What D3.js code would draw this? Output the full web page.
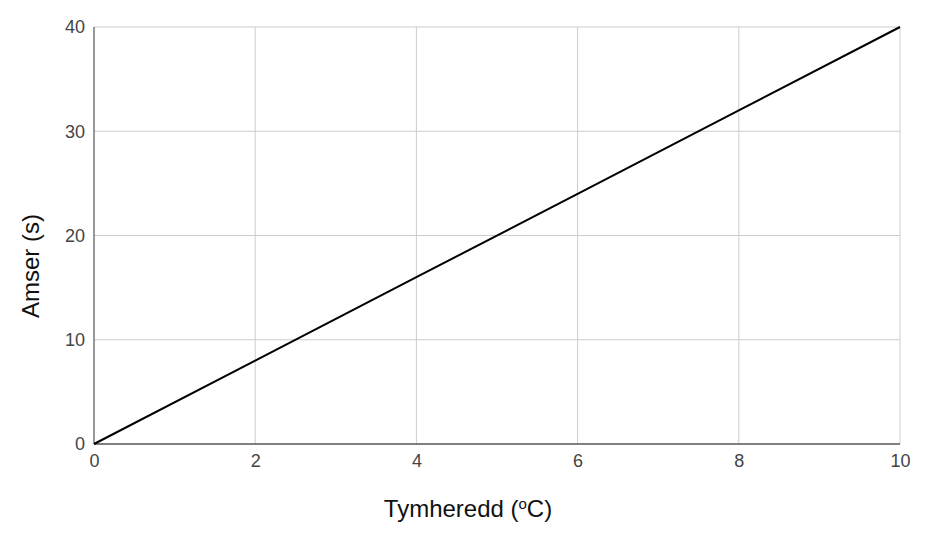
<!DOCTYPE html>
<html>
<head>
<meta charset="utf-8">
<script src="https://cdn.jsdelivr.net/npm/d3@7"></script>
<style>
  body { margin: 0; background: #fff; }
  text { font-family: Arial, "Liberation Sans", sans-serif; }
</style>
</head>
<body>
<script>
// data
var temps = [0, 2, 4, 6, 8, 10];
var times = [0, 8, 16, 24, 32, 40];
var xTicks = [0, 2, 4, 6, 8, 10];
var yTicks = [0, 10, 20, 30, 40];

var w = 925, h = 537;
var margin = { top: 27, right: 25, bottom: 93, left: 94 };

var svg = d3.select("body")
    .append("svg")
    .attr("width", w)
    .attr("height", h);

var x = d3.scaleLinear().domain([0, 10]).range([margin.left, w - margin.right]);
var y = d3.scaleLinear().domain([0, 40]).range([h - margin.bottom, margin.top]);

// vertical grid
svg.append("g")
    .selectAll("line")
    .data(xTicks.slice(1))
    .enter()
    .append("line")
    .attr("x1", function(d) { return x(d); })
    .attr("x2", function(d) { return x(d); })
    .attr("y1", y(0))
    .attr("y2", y(40))
    .attr("stroke", "#cccccc")
    .attr("stroke-width", 1);

// horizontal grid
svg.append("g")
    .selectAll("line")
    .data(yTicks.slice(1))
    .enter()
    .append("line")
    .attr("x1", x(0))
    .attr("x2", x(10))
    .attr("y1", function(d) { return y(d); })
    .attr("y2", function(d) { return y(d); })
    .attr("stroke", "#cccccc")
    .attr("stroke-width", 1);

// axes (labels only, lines drawn below)
var xAxis = svg.append("g")
    .attr("transform", "translate(0," + y(0) + ")")
    .call(d3.axisBottom(x).tickValues(xTicks).tickSize(0).tickPadding(10));
var yAxis = svg.append("g")
    .attr("transform", "translate(" + x(0) + ",0)")
    .call(d3.axisLeft(y).tickValues(yTicks).tickSize(0).tickPadding(9));

[xAxis, yAxis].forEach(function(g) {
    g.select(".domain").remove();
    g.attr("font-size", 18).attr("font-family", "Arial, 'Liberation Sans', sans-serif");
    g.selectAll("text")
        .attr("fill", "#444");
});

// axis lines
svg.append("line")
    .attr("x1", x(0)).attr("x2", x(0))
    .attr("y1", y(0)).attr("y2", y(40))
    .attr("stroke", "#777").attr("stroke-width", 1.5);
svg.append("line")
    .attr("x1", x(0)).attr("x2", x(10))
    .attr("y1", y(0)).attr("y2", y(0))
    .attr("stroke", "#555").attr("stroke-width", 1.5);

// series line
var line = d3.line()
    .x(function(d, i) { return x(temps[i]); })
    .y(function(d) { return y(d); });

svg.append("path")
    .datum(times)
    .attr("d", line)
    .attr("fill", "none")
    .attr("stroke", "#000")
    .attr("stroke-width", 2);

// axis titles
var xt = svg.append("text")
    .attr("x", 468)
    .attr("y", 517)
    .attr("text-anchor", "middle")
    .attr("fill", "#111")
    .style("font-size", "24px");
xt.append("tspan").text("Tymheredd (");
xt.append("tspan").attr("baseline-shift", "super").style("font-size", "15px").text("o");
xt.append("tspan").text("C)");

svg.append("text")
    .attr("transform", "translate(39,266) rotate(-90)")
    .attr("text-anchor", "middle")
    .attr("fill", "#111")
    .style("font-size", "24px")
    .text("Amser (s)");
</script>
</body>
</html>
